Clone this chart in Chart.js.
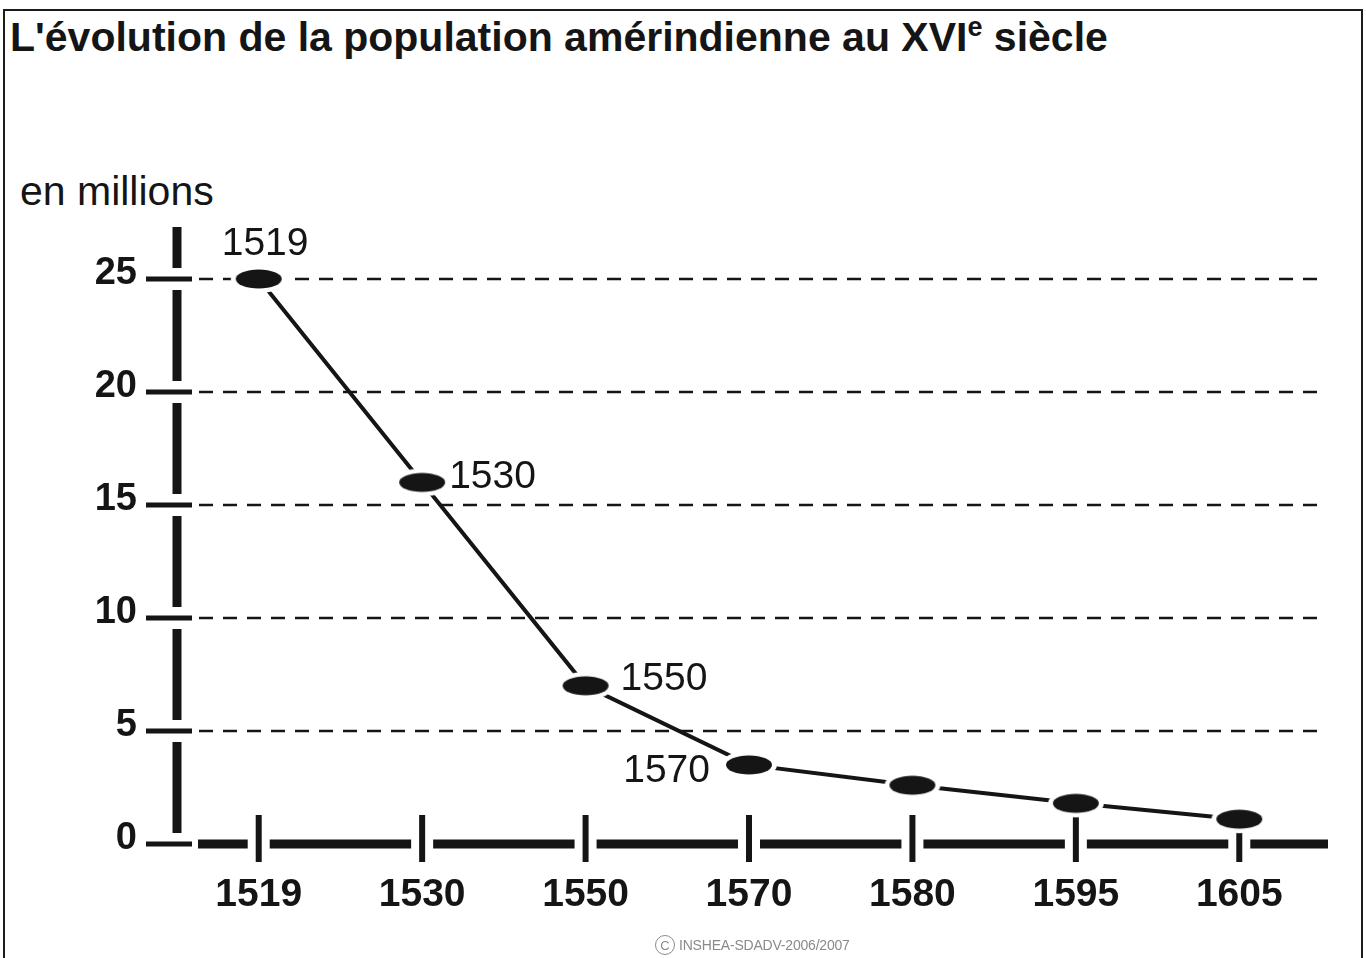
<!DOCTYPE html>
<html lang="fr">
<head>
<meta charset="utf-8">
<title>L'évolution de la population amérindienne au XVIe siècle</title>
<script src="https://cdn.jsdelivr.net/npm/chart.js@4.4.1/dist/chart.umd.min.js"></script>
<style>
  html, body { margin: 0; padding: 0; background: #fff; }
  body {
    width: 1366px;
    height: 958px;
    position: relative;
    overflow: hidden;
    font-family: "Liberation Sans", Arial, sans-serif;
    color: #151515;
  }
  .frame {
    position: absolute;
    left: 3px;
    top: 9px;
    width: 1360px;
    height: 1000px;
    border: 2px solid #1b1b1b;
    box-sizing: border-box;
  }
  .title {
    position: absolute;
    left: 10px;
    top: 14px;
    font-size: 41px;
    font-weight: bold;
    line-height: 47px;
    white-space: nowrap;
  }
  .title sup { font-size: 27px; line-height: 0; }
  .unit {
    position: absolute;
    left: 20px;
    top: 168px;
    font-size: 41px;
    line-height: 47px;
    white-space: nowrap;
  }
  .credit {
    position: absolute;
    left: 655px;
    top: 935px;
    font-size: 14px;
    color: #8a8a8a;
    letter-spacing: -0.2px;
    white-space: nowrap;
    display: flex;
    align-items: center;
    gap: 4px;
  }
  .credit .mark {
    display: inline-flex;
    align-items: center;
    justify-content: center;
    width: 20px;
    height: 20px;
    border: 1px solid #8a8a8a;
    border-radius: 50%;
    box-sizing: border-box;
    letter-spacing: 0;
    font-size: 13px;
  }
  #chart { position: absolute; left: 0; top: 0; }
</style>
</head>
<body>
<div class="frame"></div>
<div class="title">L'évolution de la population amérindienne au XVI<sup>e</sup> siècle</div>
<div class="unit">en millions</div>
<canvas id="chart" width="1366" height="958"></canvas>
<div class="credit"><span class="mark">C</span><span>INSHEA-SDADV-2006/2007</span></div>

<script>
  const years = ["1519", "1530", "1550", "1570", "1580", "1595", "1605"];
  const population = [25, 16, 7, 3.5, 2.6, 1.8, 1.1];
  const yTickValues = [0, 5, 10, 15, 20, 25];
  const labelledYears = ["1519", "1530", "1550", "1570"];

  const ink = "#151515";

  // where each year label sits next to its point: [align, dx, dy]
  const labelPlacement = {
    "1519": ["left", -37, -35],
    "1530": ["left", 27, -5],
    "1550": ["left", 35, -7],
    "1570": ["right", -39, 6]
  };

  function makeEllipseMarker() {
    const c = document.createElement("canvas");
    c.width = 58;
    c.height = 30;
    const g = c.getContext("2d");
    g.fillStyle = "#fff";
    g.beginPath();
    g.ellipse(29, 15, 28, 14, 0, 0, Math.PI * 2);
    g.fill();
    g.fillStyle = ink;
    g.beginPath();
    g.ellipse(29, 15, 23, 9.5, 0, 0, Math.PI * 2);
    g.fill();
    return c;
  }

  const axisArt = {
    id: "axisArt",
    beforeDatasetsDraw(chart) {
      const { ctx, chartArea, scales } = chart;
      const x = scales.x;
      const y = scales.y;
      const left = chartArea.left;
      const zeroY = y.getPixelForValue(0);
      const gap = 11;

      ctx.save();
      ctx.strokeStyle = ink;

      // dashed guide lines
      ctx.lineWidth = 2.5;
      ctx.setLineDash([14, 10]);
      y.ticks.forEach((t) => {
        if (t.value === 0) {
          return;
        }
        const py = Math.round(y.getPixelForValue(t.value));
        ctx.beginPath();
        ctx.moveTo(left + 22, py);
        ctx.lineTo(chartArea.right, py);
        ctx.stroke();
      });
      ctx.setLineDash([]);

      // vertical bar, broken around every tick
      const tickPx = y.ticks.map((t) => y.getPixelForValue(t.value)).sort((a, b) => a - b);
      const stops = [tickPx[0] - 52 + gap, ...tickPx];
      ctx.lineWidth = 9;
      ctx.lineCap = "butt";
      for (let i = 0; i < stops.length - 1; i++) {
        const top = i === 0 ? stops[0] - gap : stops[i] + gap;
        const bottom = stops[i + 1] - gap;
        ctx.beginPath();
        ctx.moveTo(left, top);
        ctx.lineTo(left, bottom);
        ctx.stroke();
      }

      // short horizontal ticks
      ctx.lineWidth = 5;
      tickPx.forEach((py) => {
        ctx.beginPath();
        ctx.moveTo(left - 31, py);
        ctx.lineTo(left + 15, py);
        ctx.stroke();
      });

      // horizontal bar, broken around every category tick
      const catPx = years.map((_, i) => x.getPixelForValue(i));
      const xStops = [left + 21, ...catPx, chartArea.right + 7];
      ctx.lineWidth = 9;
      for (let i = 0; i < xStops.length - 1; i++) {
        const from = i === 0 ? xStops[0] : xStops[i] + gap;
        const to = i === xStops.length - 2 ? xStops[i + 1] : xStops[i + 1] - gap;
        ctx.beginPath();
        ctx.moveTo(from, zeroY);
        ctx.lineTo(to, zeroY);
        ctx.stroke();
      }

      ctx.lineWidth = 6;
      catPx.forEach((px) => {
        ctx.beginPath();
        ctx.moveTo(px, zeroY - 29);
        ctx.lineTo(px, zeroY + 18);
        ctx.stroke();
      });

      ctx.restore();
    }
  };

  const yearLabels = {
    id: "yearLabels",
    afterDatasetsDraw(chart) {
      const { ctx } = chart;
      const points = chart.getDatasetMeta(0).data;
      ctx.save();
      ctx.fillStyle = ink;
      ctx.font = '39px "Liberation Sans", Arial, sans-serif';
      ctx.textBaseline = "middle";
      labelledYears.forEach((year) => {
        const idx = years.indexOf(year);
        const pt = points[idx];
        const [align, dx, dy] = labelPlacement[year];
        ctx.textAlign = align;
        ctx.fillText(year, pt.x + dx, pt.y + dy);
      });
      ctx.restore();
    }
  };

  new Chart(document.getElementById("chart"), {
    type: "line",
    data: {
      labels: years,
      datasets: [{
        data: population,
        borderColor: ink,
        borderWidth: 4,
        tension: 0,
        pointStyle: makeEllipseMarker(),
        pointRadius: 20,
        clip: false
      }]
    },
    options: {
      responsive: false,
      animation: false,
      devicePixelRatio: 1,
      layout: { padding: { top: 279, right: 45, bottom: 0, left: 0 } },
      plugins: {
        legend: { display: false },
        tooltip: { enabled: false }
      },
      scales: {
        x: {
          offset: true,
          grid: { display: false },
          border: { display: false },
          ticks: {
            color: ink,
            font: { family: "Liberation Sans", size: 39, weight: "bold" },
            padding: 20,
            maxRotation: 0,
            autoSkip: false
          },
          afterFit(scale) {
            scale.height = 114;
          }
        },
        y: {
          min: 0,
          max: 25,
          afterBuildTicks(scale) {
            scale.ticks = yTickValues.map((v) => ({ value: v }));
          },
          grid: { display: false },
          border: { display: false },
          ticks: {
            color: ink,
            font: { family: "Liberation Sans", size: 38, weight: "bold" },
            padding: 32,
            labelOffset: -5
          },
          afterFit(scale) {
            scale.width = 177;
          }
        }
      }
    },
    plugins: [axisArt, yearLabels]
  });
</script>
</body>
</html>
